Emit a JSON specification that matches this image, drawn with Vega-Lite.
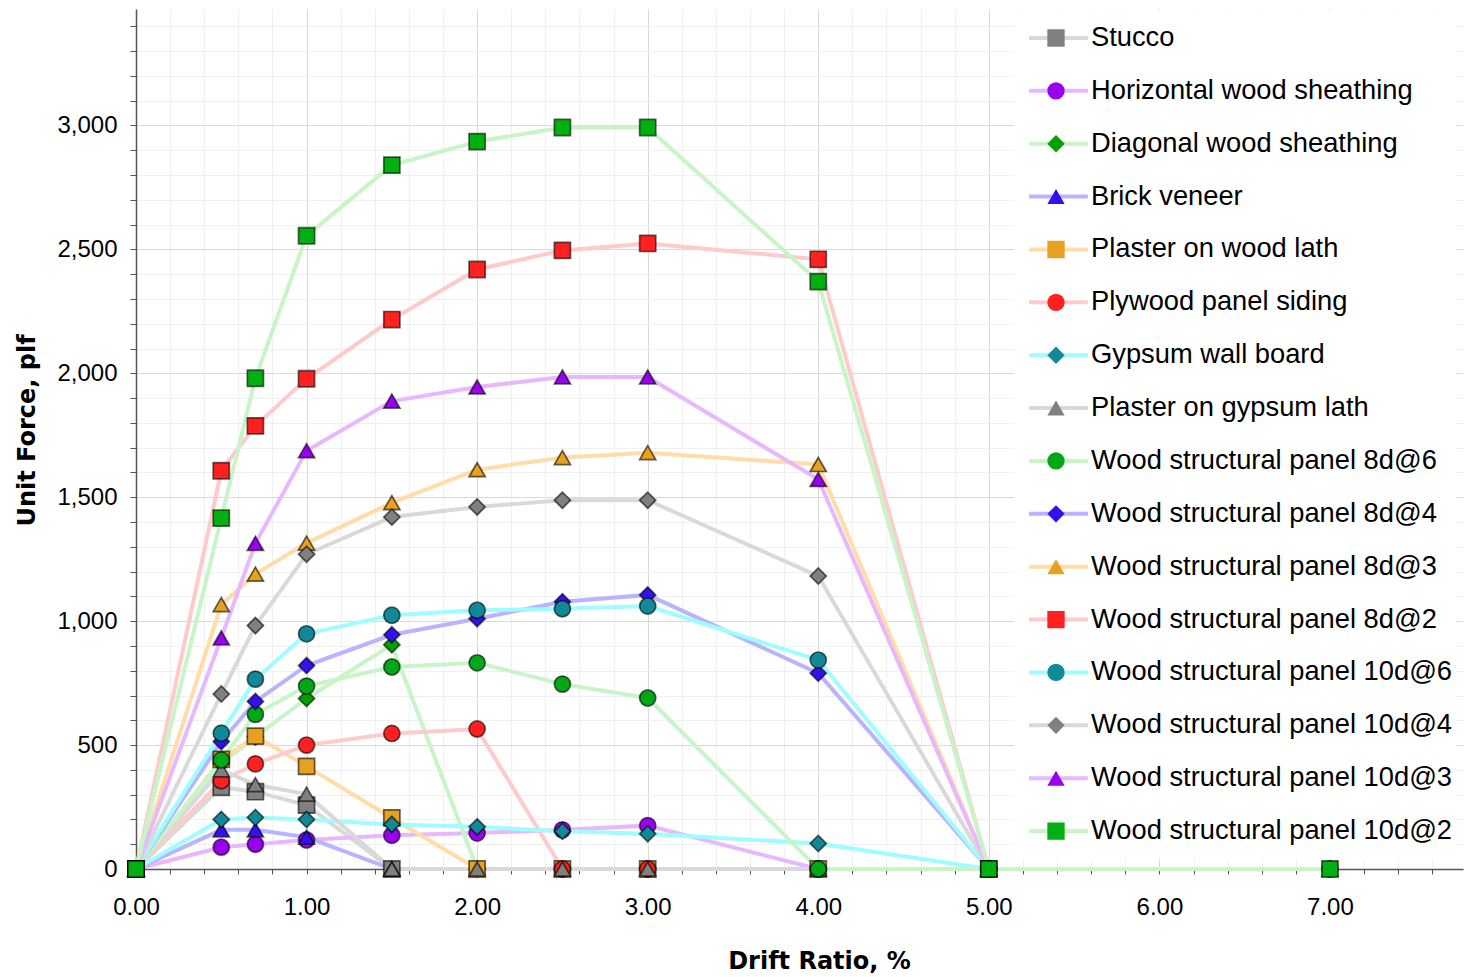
{
  "$schema": "https://vega.github.io/schema/vega-lite/v6.json",
  "width": 1327,
  "height": 860,
  "autosize": {"type": "none"},
  "padding": {"left": 136, "top": 9, "right": 1, "bottom": 108},
  "background": "white",
  "config": {"view": {"stroke": null}},
  "data": {"values": [
    {"s": "Stucco", "x": 0, "y": 0}, {"s": "Stucco", "x": 0.5, "y": 330}, {"s": "Stucco", "x": 0.7, "y": 312}, {"s": "Stucco", "x": 1.0, "y": 258}, {"s": "Stucco", "x": 1.5, "y": 0},
    {"s": "Horizontal wood sheathing", "x": 0, "y": 0}, {"s": "Horizontal wood sheathing", "x": 0.5, "y": 88}, {"s": "Horizontal wood sheathing", "x": 0.7, "y": 100}, {"s": "Horizontal wood sheathing", "x": 1.0, "y": 117}, {"s": "Horizontal wood sheathing", "x": 1.5, "y": 136}, {"s": "Horizontal wood sheathing", "x": 2.0, "y": 145}, {"s": "Horizontal wood sheathing", "x": 2.5, "y": 158}, {"s": "Horizontal wood sheathing", "x": 3.0, "y": 175}, {"s": "Horizontal wood sheathing", "x": 4.0, "y": 0},
    {"s": "Diagonal wood sheathing", "x": 0, "y": 0}, {"s": "Diagonal wood sheathing", "x": 0.5, "y": 425}, {"s": "Diagonal wood sheathing", "x": 0.7, "y": 533}, {"s": "Diagonal wood sheathing", "x": 1.0, "y": 688}, {"s": "Diagonal wood sheathing", "x": 1.5, "y": 905}, {"s": "Diagonal wood sheathing", "x": 2.0, "y": 0}, {"s": "Diagonal wood sheathing", "x": 2.5, "y": 0}, {"s": "Diagonal wood sheathing", "x": 3.0, "y": 0}, {"s": "Diagonal wood sheathing", "x": 4.0, "y": 0},
    {"s": "Brick veneer", "x": 0, "y": 0}, {"s": "Brick veneer", "x": 0.5, "y": 158}, {"s": "Brick veneer", "x": 0.7, "y": 158}, {"s": "Brick veneer", "x": 1.0, "y": 128}, {"s": "Brick veneer", "x": 1.5, "y": 0},
    {"s": "Plaster on wood lath", "x": 0, "y": 0}, {"s": "Plaster on wood lath", "x": 0.5, "y": 442}, {"s": "Plaster on wood lath", "x": 0.7, "y": 536}, {"s": "Plaster on wood lath", "x": 1.0, "y": 414}, {"s": "Plaster on wood lath", "x": 1.5, "y": 206}, {"s": "Plaster on wood lath", "x": 2.0, "y": 0}, {"s": "Plaster on wood lath", "x": 2.5, "y": 0}, {"s": "Plaster on wood lath", "x": 3.0, "y": 0}, {"s": "Plaster on wood lath", "x": 4.0, "y": 0},
    {"s": "Plywood panel siding", "x": 0, "y": 0}, {"s": "Plywood panel siding", "x": 0.5, "y": 356}, {"s": "Plywood panel siding", "x": 0.7, "y": 424}, {"s": "Plywood panel siding", "x": 1.0, "y": 500}, {"s": "Plywood panel siding", "x": 1.5, "y": 547}, {"s": "Plywood panel siding", "x": 2.0, "y": 565}, {"s": "Plywood panel siding", "x": 2.5, "y": 0}, {"s": "Plywood panel siding", "x": 3.0, "y": 0},
    {"s": "Gypsum wall board", "x": 0, "y": 0}, {"s": "Gypsum wall board", "x": 0.5, "y": 200}, {"s": "Gypsum wall board", "x": 0.7, "y": 208}, {"s": "Gypsum wall board", "x": 1.0, "y": 200}, {"s": "Gypsum wall board", "x": 1.5, "y": 180}, {"s": "Gypsum wall board", "x": 2.0, "y": 170}, {"s": "Gypsum wall board", "x": 2.5, "y": 152}, {"s": "Gypsum wall board", "x": 3.0, "y": 142}, {"s": "Gypsum wall board", "x": 4.0, "y": 103}, {"s": "Gypsum wall board", "x": 5.0, "y": 0},
    {"s": "Plaster on gypsum lath", "x": 0, "y": 0}, {"s": "Plaster on gypsum lath", "x": 0.5, "y": 400}, {"s": "Plaster on gypsum lath", "x": 0.7, "y": 340}, {"s": "Plaster on gypsum lath", "x": 1.0, "y": 302}, {"s": "Plaster on gypsum lath", "x": 1.5, "y": 0}, {"s": "Plaster on gypsum lath", "x": 2.0, "y": 0}, {"s": "Plaster on gypsum lath", "x": 2.5, "y": 0}, {"s": "Plaster on gypsum lath", "x": 3.0, "y": 0}, {"s": "Plaster on gypsum lath", "x": 4.0, "y": 0},
    {"s": "Wood structural panel 8d@6", "x": 0, "y": 0}, {"s": "Wood structural panel 8d@6", "x": 0.5, "y": 440}, {"s": "Wood structural panel 8d@6", "x": 0.7, "y": 624}, {"s": "Wood structural panel 8d@6", "x": 1.0, "y": 738}, {"s": "Wood structural panel 8d@6", "x": 1.5, "y": 815}, {"s": "Wood structural panel 8d@6", "x": 2.0, "y": 832}, {"s": "Wood structural panel 8d@6", "x": 2.5, "y": 746}, {"s": "Wood structural panel 8d@6", "x": 3.0, "y": 690}, {"s": "Wood structural panel 8d@6", "x": 4.0, "y": 0}, {"s": "Wood structural panel 8d@6", "x": 5.0, "y": 0}, {"s": "Wood structural panel 8d@6", "x": 7.0, "y": 0},
    {"s": "Wood structural panel 8d@4", "x": 0, "y": 0}, {"s": "Wood structural panel 8d@4", "x": 0.5, "y": 514}, {"s": "Wood structural panel 8d@4", "x": 0.7, "y": 676}, {"s": "Wood structural panel 8d@4", "x": 1.0, "y": 821}, {"s": "Wood structural panel 8d@4", "x": 1.5, "y": 945}, {"s": "Wood structural panel 8d@4", "x": 2.0, "y": 1010}, {"s": "Wood structural panel 8d@4", "x": 2.5, "y": 1078}, {"s": "Wood structural panel 8d@4", "x": 3.0, "y": 1106}, {"s": "Wood structural panel 8d@4", "x": 4.0, "y": 790}, {"s": "Wood structural panel 8d@4", "x": 5.0, "y": 0},
    {"s": "Wood structural panel 8d@3", "x": 0, "y": 0}, {"s": "Wood structural panel 8d@3", "x": 0.5, "y": 1067}, {"s": "Wood structural panel 8d@3", "x": 0.7, "y": 1190}, {"s": "Wood structural panel 8d@3", "x": 1.0, "y": 1315}, {"s": "Wood structural panel 8d@3", "x": 1.5, "y": 1478}, {"s": "Wood structural panel 8d@3", "x": 2.0, "y": 1611}, {"s": "Wood structural panel 8d@3", "x": 2.5, "y": 1660}, {"s": "Wood structural panel 8d@3", "x": 3.0, "y": 1680}, {"s": "Wood structural panel 8d@3", "x": 4.0, "y": 1632}, {"s": "Wood structural panel 8d@3", "x": 5.0, "y": 0},
    {"s": "Wood structural panel 8d@2", "x": 0, "y": 0}, {"s": "Wood structural panel 8d@2", "x": 0.5, "y": 1607}, {"s": "Wood structural panel 8d@2", "x": 0.7, "y": 1788}, {"s": "Wood structural panel 8d@2", "x": 1.0, "y": 1978}, {"s": "Wood structural panel 8d@2", "x": 1.5, "y": 2217}, {"s": "Wood structural panel 8d@2", "x": 2.0, "y": 2419}, {"s": "Wood structural panel 8d@2", "x": 2.5, "y": 2496}, {"s": "Wood structural panel 8d@2", "x": 3.0, "y": 2524}, {"s": "Wood structural panel 8d@2", "x": 4.0, "y": 2460}, {"s": "Wood structural panel 8d@2", "x": 5.0, "y": 0},
    {"s": "Wood structural panel 10d@6", "x": 0, "y": 0}, {"s": "Wood structural panel 10d@6", "x": 0.5, "y": 548}, {"s": "Wood structural panel 10d@6", "x": 0.7, "y": 766}, {"s": "Wood structural panel 10d@6", "x": 1.0, "y": 949}, {"s": "Wood structural panel 10d@6", "x": 1.5, "y": 1024}, {"s": "Wood structural panel 10d@6", "x": 2.0, "y": 1044}, {"s": "Wood structural panel 10d@6", "x": 2.5, "y": 1050}, {"s": "Wood structural panel 10d@6", "x": 3.0, "y": 1061}, {"s": "Wood structural panel 10d@6", "x": 4.0, "y": 843}, {"s": "Wood structural panel 10d@6", "x": 5.0, "y": 0},
    {"s": "Wood structural panel 10d@4", "x": 0, "y": 0}, {"s": "Wood structural panel 10d@4", "x": 0.5, "y": 706}, {"s": "Wood structural panel 10d@4", "x": 0.7, "y": 982}, {"s": "Wood structural panel 10d@4", "x": 1.0, "y": 1270}, {"s": "Wood structural panel 10d@4", "x": 1.5, "y": 1420}, {"s": "Wood structural panel 10d@4", "x": 2.0, "y": 1461}, {"s": "Wood structural panel 10d@4", "x": 2.5, "y": 1488}, {"s": "Wood structural panel 10d@4", "x": 3.0, "y": 1488}, {"s": "Wood structural panel 10d@4", "x": 4.0, "y": 1182}, {"s": "Wood structural panel 10d@4", "x": 5.0, "y": 0},
    {"s": "Wood structural panel 10d@3", "x": 0, "y": 0}, {"s": "Wood structural panel 10d@3", "x": 0.5, "y": 932}, {"s": "Wood structural panel 10d@3", "x": 0.7, "y": 1314}, {"s": "Wood structural panel 10d@3", "x": 1.0, "y": 1688}, {"s": "Wood structural panel 10d@3", "x": 1.5, "y": 1888}, {"s": "Wood structural panel 10d@3", "x": 2.0, "y": 1945}, {"s": "Wood structural panel 10d@3", "x": 2.5, "y": 1985}, {"s": "Wood structural panel 10d@3", "x": 3.0, "y": 1985}, {"s": "Wood structural panel 10d@3", "x": 4.0, "y": 1572}, {"s": "Wood structural panel 10d@3", "x": 5.0, "y": 0}, {"s": "Wood structural panel 10d@3", "x": 7.0, "y": 0},
    {"s": "Wood structural panel 10d@2", "x": 0, "y": 0}, {"s": "Wood structural panel 10d@2", "x": 0.5, "y": 1416}, {"s": "Wood structural panel 10d@2", "x": 0.7, "y": 1980}, {"s": "Wood structural panel 10d@2", "x": 1.0, "y": 2555}, {"s": "Wood structural panel 10d@2", "x": 1.5, "y": 2840}, {"s": "Wood structural panel 10d@2", "x": 2.0, "y": 2935}, {"s": "Wood structural panel 10d@2", "x": 2.5, "y": 2992}, {"s": "Wood structural panel 10d@2", "x": 3.0, "y": 2992}, {"s": "Wood structural panel 10d@2", "x": 4.0, "y": 2370}, {"s": "Wood structural panel 10d@2", "x": 5.0, "y": 0}, {"s": "Wood structural panel 10d@2", "x": 7.0, "y": 0}
  ]},
  "encoding": {
    "x": {
      "field": "x", "type": "quantitative",
      "scale": {"domain": [0, 7.78], "nice": false, "zero": false},
      "axis": {
        "values": [0, 0.2, 0.4, 0.6, 0.8, 1, 1.2, 1.4, 1.6, 1.8, 2, 2.2, 2.4, 2.6, 2.8, 3, 3.2, 3.4, 3.6, 3.8, 4, 4.2, 4.4, 4.6, 4.8, 5, 5.2, 5.4, 5.6, 5.8, 6, 6.2, 6.4, 6.6, 6.8, 7, 7.2, 7.4, 7.6],
        "labelExpr": "abs(datum.value - round(datum.value)) < 0.001 ? format(datum.value, '.2f') : ''",
        "gridColor": {"condition": {"test": "abs(datum.value - round(datum.value)) < 0.001", "value": "#d9d9d9"}, "value": "#f0f0f0"},
        "gridWidth": 1,
        "tickSize": 5, "tickColor": "#555555", "tickWidth": 1,
        "domainColor": "#555555", "domainWidth": 1.5,
        "labelFont": "Liberation Sans", "labelFontSize": 24, "labelColor": "#000000", "labelPadding": 21,
        "labelOverlap": false, "labelFlush": false,
        "title": "Drift Ratio, %",
        "titleFont": "DejaVu Sans", "titleFontSize": 24, "titleFontWeight": "bold", "titleColor": "#000000",
        "titleX": 683, "titleY": 99, "titleBaseline": "alphabetic", "titleAlign": "center"
      }
    },
    "y": {
      "field": "y", "type": "quantitative",
      "scale": {"domain": [0, 3470], "nice": false, "zero": true},
      "axis": {
        "values": [0, 100, 200, 300, 400, 500, 600, 700, 800, 900, 1000, 1100, 1200, 1300, 1400, 1500, 1600, 1700, 1800, 1900, 2000, 2100, 2200, 2300, 2400, 2500, 2600, 2700, 2800, 2900, 3000, 3100, 3200, 3300, 3400],
        "labelExpr": "datum.value % 500 === 0 ? format(datum.value, ',') : ''",
        "gridColor": {"condition": {"test": "datum.value % 500 === 0", "value": "#d9d9d9"}, "value": "#f0f0f0"},
        "gridWidth": 1,
        "tickSize": 6, "tickColor": "#555555", "tickWidth": 1,
        "domainColor": "#555555", "domainWidth": 1.5,
        "labelFont": "Liberation Sans", "labelFontSize": 24, "labelColor": "#000000", "labelPadding": 13,
        "labelOverlap": false, "labelFlush": false,
        "title": "Unit Force, plf",
        "titleFont": "DejaVu Sans", "titleFontSize": 24, "titleFontWeight": "bold", "titleColor": "#000000",
        "titleX": -102, "titleY": 421, "titleBaseline": "alphabetic", "titleAlign": "center", "titleAngle": 270
      }
    }
  },
  "layer": [
    {
      "mark": {"type": "line", "strokeWidth": 4, "clip": false},
      "encoding": {
        "color": {
          "field": "s", "type": "nominal",
          "scale": {
            "domain": ["Stucco", "Horizontal wood sheathing", "Diagonal wood sheathing", "Brick veneer", "Plaster on wood lath", "Plywood panel siding", "Gypsum wall board", "Plaster on gypsum lath", "Wood structural panel 8d@6", "Wood structural panel 8d@4", "Wood structural panel 8d@3", "Wood structural panel 8d@2", "Wood structural panel 10d@6", "Wood structural panel 10d@4", "Wood structural panel 10d@3", "Wood structural panel 10d@2"],
            "range": ["#d9d9d9", "#e8b8ff", "#c8f5c8", "#b8b4ff", "#ffdca8", "#ffcaca", "#9ffcff", "#d9d9d9", "#c8f5c8", "#b8b4ff", "#ffdca8", "#ffcaca", "#9ffcff", "#d9d9d9", "#e8b8ff", "#c8f5c8"]
          },
          "legend": {
            "orient": "none", "legendX": 878, "legendY": 2,
            "title": "\u00a0", "titleOrient": "left", "titlePadding": 12, "titleFontSize": 10,
            "padding": 3, "fillColor": "white", "strokeColor": null,
            "symbolType": "M-1.37,0H1.37", "symbolSize": 2304, "symbolStrokeWidth": 4, "symbolFillColor": "transparent",
            "clipHeight": 48, "rowPadding": 4.87, "labelOffset": 10,
            "labelFont": "Liberation Sans", "labelFontSize": 27.3, "labelColor": "#000000", "labelLimit": 600,
            "labelExpr": "datum.label == 'Plywood panel siding' ? '\u00a0Plywood panel siding' : datum.label"
          }
        }
      }
    },
    {
      "mark": {"type": "point", "filled": true, "size": 260, "opacity": 1, "stroke": "#000000", "strokeOpacity": 0.6, "strokeWidth": 1.7, "clip": false},
      "encoding": {
        "fill": {
          "field": "s", "type": "nominal",
          "scale": {
            "domain": ["Stucco", "Horizontal wood sheathing", "Diagonal wood sheathing", "Brick veneer", "Plaster on wood lath", "Plywood panel siding", "Gypsum wall board", "Plaster on gypsum lath", "Wood structural panel 8d@6", "Wood structural panel 8d@4", "Wood structural panel 8d@3", "Wood structural panel 8d@2", "Wood structural panel 10d@6", "Wood structural panel 10d@4", "Wood structural panel 10d@3", "Wood structural panel 10d@2"],
            "range": ["#808080", "#9900ee", "#00a000", "#3311ee", "#e8a020", "#ff2020", "#108a99", "#808080", "#00a818", "#3311ee", "#e8a020", "#ff2020", "#108a99", "#808080", "#9900ee", "#00b010"]
          },
          "legend": {
            "orient": "none", "legendX": 910.5, "legendY": 5,
            "title": null, "padding": 0,
            "symbolSize": 300, "symbolStrokeWidth": 1.5, "symbolStrokeColor": "#333333",
            "clipHeight": 48, "rowPadding": 4.87, "labelExpr": "''", "labelFontSize": 10,
            "encode": {"symbols": {"update": {"stroke": {"value": "#000000"}, "strokeOpacity": {"value": 0.6}, "strokeWidth": {"value": 1.5}}}}
          }
        },
        "shape": {
          "field": "s", "type": "nominal",
          "scale": {
            "domain": ["Stucco", "Horizontal wood sheathing", "Diagonal wood sheathing", "Brick veneer", "Plaster on wood lath", "Plywood panel siding", "Gypsum wall board", "Plaster on gypsum lath", "Wood structural panel 8d@6", "Wood structural panel 8d@4", "Wood structural panel 8d@3", "Wood structural panel 8d@2", "Wood structural panel 10d@6", "Wood structural panel 10d@4", "Wood structural panel 10d@3", "Wood structural panel 10d@2"],
            "range": ["square", "circle", "diamond", "triangle-up", "square", "circle", "diamond", "triangle-up", "circle", "diamond", "triangle-up", "square", "circle", "diamond", "triangle-up", "square"]
          },
          "legend": {
            "orient": "none", "legendX": 910.5, "legendY": 5,
            "title": null, "padding": 0,
            "symbolSize": 300, "symbolStrokeWidth": 1.5, "symbolStrokeColor": "#333333",
            "clipHeight": 48, "rowPadding": 4.87, "labelExpr": "''", "labelFontSize": 10,
            "encode": {"symbols": {"update": {"stroke": {"value": "#000000"}, "strokeOpacity": {"value": 0.6}, "strokeWidth": {"value": 1.5}}}}
          }
        }
      }
    }
  ],
  "resolve": {"legend": {"color": "independent", "fill": "independent", "shape": "independent"}}
}
